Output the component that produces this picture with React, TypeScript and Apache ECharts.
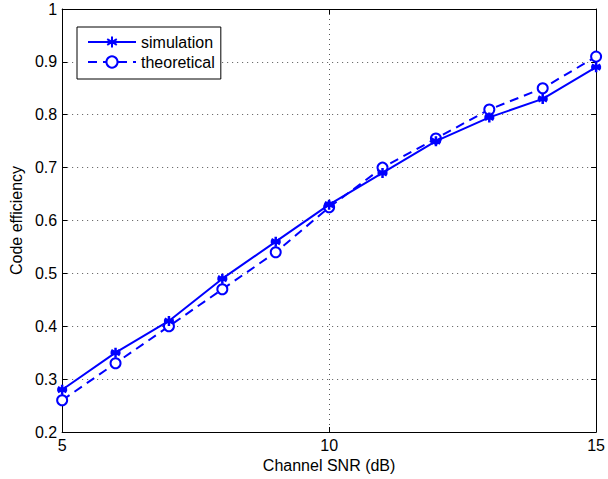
import React, { useEffect, useRef } from "react";
import * as echarts from "echarts";

const snr = [5, 6, 7, 8, 9, 10, 11, 12, 13, 14, 15];
const simulation = [0.28, 0.35, 0.41, 0.49, 0.56, 0.63, 0.69, 0.75, 0.795, 0.83, 0.89];
const theoretical = [0.26, 0.33, 0.4, 0.47, 0.54, 0.625, 0.7, 0.755, 0.81, 0.85, 0.91];

const BLUE = "#0000ff";
const FONT = "Liberation Sans, Arial, Helvetica, sans-serif";
const FS = 16;
const ASTERISK = "path://M5,0L5,10M0.7,2.5L9.3,7.5M0.7,7.5L9.3,2.5M0,5L10,5";

export default function App() {
  const ref = useRef<HTMLDivElement>(null);
  useEffect(() => {
    const chart = echarts.init(ref.current!, undefined, { renderer: "svg" });
    const axisCommon = {
      axisLine: { show: true, lineStyle: { color: "#000", width: 1 } },
      axisTick: { show: true, inside: true, length: 5, lineStyle: { color: "#000" } },
    };
    const text = { fontFamily: FONT, fontSize: FS, color: "#000" };
    chart.setOption({
      animation: false,
      backgroundColor: "#fff",
      grid: { left: 62, right: 10, top: 9, bottom: 47, containLabel: false },
      legend: {
        left: 77,
        top: 27,
        orient: "vertical",
        itemWidth: 48,
        itemHeight: 14,
        itemGap: 4,
        padding: [7, 6, 9, 10],
        borderColor: "#000",
        borderWidth: 1,
        borderRadius: 0,
        backgroundColor: "#fff",
        textStyle: text,
        data: ["simulation", "theoretical"],
      },
      xAxis: [
        {
          type: "value",
          min: 5,
          max: 15,
          interval: 5,
          name: "Channel SNR (dB)",
          nameLocation: "middle",
          nameGap: 18,
          nameTextStyle: text,
          axisLabel: { ...text, margin: 5 },
          splitLine: { show: true, lineStyle: { color: "#555", type: [1, 4], width: 1 } },
          ...axisCommon,
        },
        {
          type: "value",
          position: "top",
          min: 5,
          max: 15,
          interval: 5,
          axisLabel: { show: false },
          splitLine: { show: false },
          ...axisCommon,
        },
      ],
      yAxis: [
        {
          type: "value",
          min: 0.2,
          max: 1,
          interval: 0.1,
          name: "Code efficiency",
          nameLocation: "middle",
          nameGap: 36,
          nameTextStyle: text,
          axisLabel: {
            ...text,
            margin: 5,
            formatter: (v: number) => {
              const r = Math.round(v * 10) / 10;
              return r === 1 ? "1" : r.toFixed(1);
            },
          },
          splitLine: { show: true, lineStyle: { color: "#555", type: [1, 4], width: 1 } },
          ...axisCommon,
        },
        {
          type: "value",
          position: "right",
          min: 0.2,
          max: 1,
          interval: 0.1,
          axisLabel: { show: false },
          splitLine: { show: false },
          ...axisCommon,
        },
      ],
      series: [
        {
          name: "simulation",
          type: "line",
          data: snr.map((x, i) => [x, simulation[i]]),
          symbol: ASTERISK,
          symbolSize: 10,
          showAllSymbol: true,
          lineStyle: { color: BLUE, width: 2 },
          itemStyle: { color: BLUE, borderColor: BLUE, borderWidth: 2.5 },
          z: 3,
        },
        {
          name: "theoretical",
          type: "line",
          data: snr.map((x, i) => [x, theoretical[i]]),
          symbol: "emptyCircle",
          symbolSize: 10,
          showAllSymbol: true,
          lineStyle: { color: BLUE, width: 2, type: [9, 6] },
          itemStyle: { color: BLUE, borderColor: BLUE, borderWidth: 2.5 },
          z: 2,
        },
      ],
    });
    return () => chart.dispose();
  }, []);
  return <div ref={ref} style={{ width: 608, height: 479, position: "absolute", left: 0, top: 0 }} />;
}
